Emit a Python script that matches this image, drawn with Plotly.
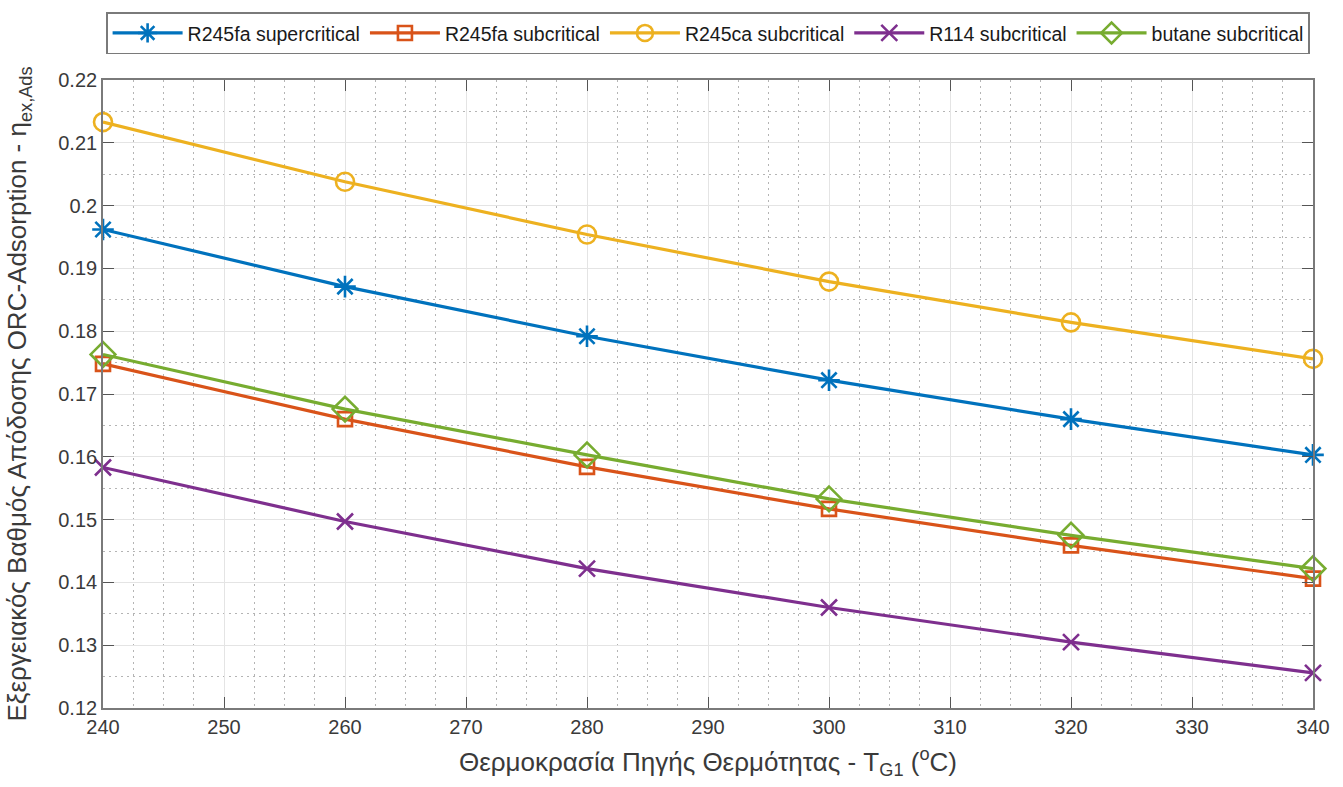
import plotly.graph_objects as go

# Heat source temperature (°C)
temperature = [240, 260, 280, 300, 320, 340]

# Exergy efficiency of the ORC-Adsorption system per working fluid
r245fa_supercritical = [0.1962, 0.1871, 0.1792, 0.1722, 0.1660, 0.1603]
r245fa_subcritical = [0.1748, 0.1660, 0.1584, 0.1517, 0.1459, 0.1406]
r245ca_subcritical = [0.2133, 0.2038, 0.1954, 0.1879, 0.1814, 0.1756]
r114_subcritical = [0.1583, 0.1497, 0.1422, 0.1360, 0.1305, 0.1256]
butane_subcritical = [0.1763, 0.1676, 0.1603, 0.1533, 0.1475, 0.1422]

series = [
    ("R245fa supercritical", r245fa_supercritical, "#0072BD", "asterisk-open", 18),
    ("R245fa subcritical", r245fa_subcritical, "#D95319", "square-open", 14),
    ("R245ca subcritical", r245ca_subcritical, "#EDB120", "circle-open", 18),
    ("R114 subcritical", r114_subcritical, "#7E2F8E", "x-thin-open", 16),
    ("butane subcritical", butane_subcritical, "#77AC30", "diamond-open", 19),
]

fig = go.Figure()
for name, values, color, symbol, size in series:
    fig.add_trace(go.Scatter(
        x=temperature, y=values, name=name, mode="lines+markers",
        line=dict(color=color, width=3.2),
        marker=dict(symbol=symbol, size=size, color=color,
                    line=dict(color=color, width=2.6)),
        cliponaxis=False,
    ))

axis_text = "#3a3a3a"
axis_common = dict(
    showline=True, linecolor="#7a7a7a", linewidth=1.6, mirror="allticks",
    ticks="inside", ticklen=11, tickwidth=1.3, tickcolor="#555555",
    showgrid=True, gridcolor="#e4e4e4", gridwidth=1.2,
    zeroline=False,
    tickfont=dict(family="Liberation Sans, Arial, sans-serif", size=20, color=axis_text),
)
minor_grid = dict(showgrid=True, gridcolor="#b4b4b4", griddash="1.5px,4.5px",
                  gridwidth=1, ticks="")

fig.update_layout(
    width=1343, height=787,
    margin=dict(l=103, r=30, t=78, b=79),
    paper_bgcolor="white", plot_bgcolor="white",
    font=dict(family="Liberation Sans, Arial, sans-serif", color=axis_text),
    xaxis=dict(
        range=[240, 340], tickmode="linear", tick0=240, dtick=10,
        title=dict(text="Θερμοκρασία Πηγής Θερμότητας - T<sub>G1</sub> (<sup>o</sup>C)",
                   font=dict(size=26, color=axis_text), standoff=16),
        minor=dict(dtick=2.5, **minor_grid),
        **axis_common,
    ),
    yaxis=dict(
        range=[0.12, 0.22], tickmode="linear", tick0=0.12, dtick=0.01,
        tickformat="~g",
        title=dict(text="Εξεργειακός Βαθμός Απόδοσης ORC-Adsorption - η<sub>ex,Ads</sub>",
                   font=dict(size=26, color=axis_text), standoff=24),
        minor=dict(dtick=0.005, **minor_grid),
        **axis_common,
    ),
    legend=dict(
        orientation="h", x=0.5, xanchor="center", y=1.108, yanchor="top",
        font=dict(size=19.5, color="#1a1a1a"),
        bgcolor="white", bordercolor="#7a7a7a", borderwidth=1.6,
        itemwidth=70, tracegroupgap=0,
    ),
)

fig.write_html("out.html")
